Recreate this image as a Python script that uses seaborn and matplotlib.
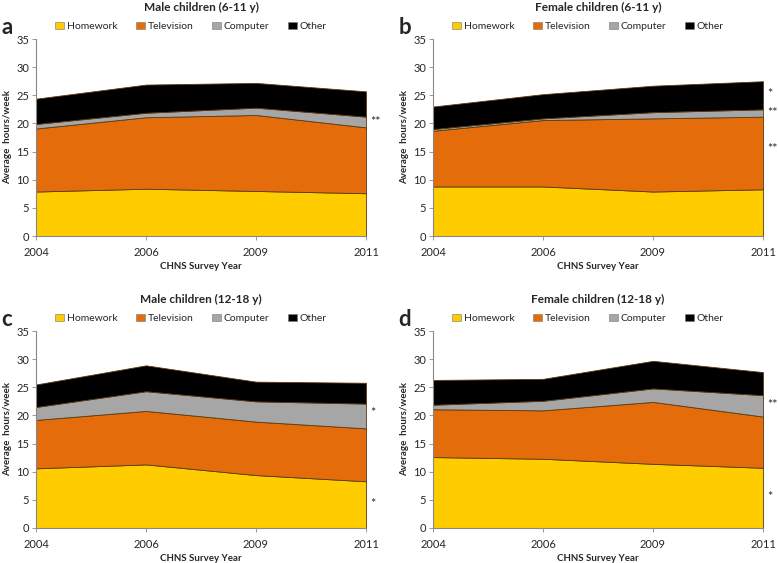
import seaborn as sns
import numpy as np
import matplotlib.pyplot as plt
from matplotlib.patches import Patch

years = ["2004", "2006", "2009", "2011"]
activities = ["Homework", "Television", "Computer", "Other"]
colors = ["#FFCC00", "#E46C0A", "#A6A6A6", "#000000"]

# hours/week per activity, one list per panel
male_6_11 = {
    "Homework": [7.9, 8.4, 8.0, 7.6],
    "Television": [11.2, 12.7, 13.5, 11.7],
    "Computer": [0.8, 0.8, 1.3, 1.9],
    "Other": [4.5, 5.0, 4.4, 4.5],
}
female_6_11 = {
    "Homework": [8.8, 8.8, 7.9, 8.3],
    "Television": [9.9, 11.8, 13.0, 12.9],
    "Computer": [0.3, 0.3, 1.1, 1.3],
    "Other": [4.0, 4.3, 4.7, 5.0],
}
male_12_18 = {
    "Homework": [10.6, 11.3, 9.4, 8.3],
    "Television": [8.6, 9.5, 9.5, 9.4],
    "Computer": [2.3, 3.5, 3.6, 4.4],
    "Other": [4.0, 4.6, 3.5, 3.7],
}
female_12_18 = {
    "Homework": [12.6, 12.3, 11.4, 10.7],
    "Television": [8.5, 8.6, 11.0, 9.1],
    "Computer": [0.8, 1.7, 2.4, 3.8],
    "Other": [4.4, 3.9, 4.9, 4.1],
}

panels = [
    ("a", "Male children (6-11 y)", male_6_11, [("**", 20.3)]),
    ("b", "Female children (6-11 y)", female_6_11, [("*", 25.3), ("**", 21.9), ("**", 15.4)]),
    ("c", "Male children (12-18 y)", male_12_18, [("*", 20.4), ("*", 4.3)]),
    ("d", "Female children (12-18 y)", female_12_18, [("**", 21.8), ("*", 5.5)]),
]

sns.set_style("white")
plt.rcParams["font.family"] = ["Lato", "DejaVu Sans"]

W, H = 778, 563
fig = plt.figure(figsize=(W / 100, H / 100), dpi=100)

# axes boxes in pixels: left, top, right, bottom
boxes = [(36, 39, 366, 236), (433, 39, 763, 236), (36, 331, 366, 528), (433, 331, 763, 528)]

for (letter, title, data, stars), (l, t, r, b) in zip(panels, boxes):
    ax = fig.add_axes([l / W, 1 - b / H, (r - l) / W, (b - t) / H])
    x = np.arange(len(years))
    ys = [data[a] for a in activities]
    ax.stackplot(x, *ys, colors=colors, edgecolor="#5a3a10", linewidth=0.6)
    ax.set_xlim(0, 3)
    ax.set_ylim(0, 35)
    ax.set_xticks(x)
    ax.set_xticklabels(years)
    ax.set_yticks(range(0, 36, 5))
    ax.tick_params(axis="both", labelsize=8, length=3, width=0.6, color="#888888",
                   direction="out", left=True, bottom=True, pad=2)
    ax.tick_params(axis="x", pad=5)
    sns.despine(ax=ax)
    for s in ["left", "bottom"]:
        ax.spines[s].set_color("#888888")
        ax.spines[s].set_linewidth(0.8)
    ax.set_xlabel("CHNS Survey Year", fontsize=7, fontweight="bold", labelpad=3)
    ax.set_ylabel("Average  hours/week", fontsize=7, fontweight="bold", labelpad=3)
    ax.set_title(title, fontsize=8.5, fontweight="bold", pad=20.5)
    handles = [Patch(facecolor=c, edgecolor="#777777", linewidth=0.4) for c in colors]
    ax.legend(handles, activities, loc="lower center", bbox_to_anchor=(0.47, 1.04), ncol=4,
              frameon=False, fontsize=7.5, handlelength=0.8, handleheight=0.8,
              handletextpad=0.3, columnspacing=1.8, borderaxespad=0.0, borderpad=0.0)
    ax.text(-0.105, 1.025, letter, transform=ax.transAxes, fontsize=16, fontweight="bold",
            ha="left", va="baseline")
    for s, yv in stars:
        ax.text(3.035, yv, s, fontsize=9, ha="left", va="center", clip_on=False)

fig.savefig("out.png", dpi=100)
